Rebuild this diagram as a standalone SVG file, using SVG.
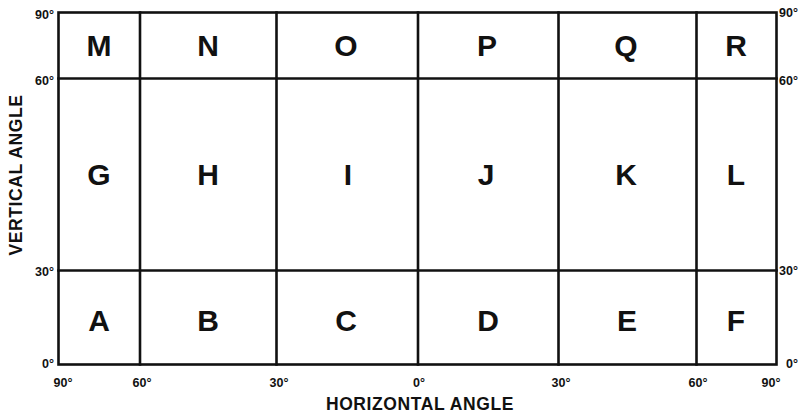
<svg xmlns="http://www.w3.org/2000/svg" width="811" height="414" viewBox="0 0 811 414">
<style>
.ln{stroke:#111;stroke-width:2.6;fill:none;stroke-linecap:square}
.cell{font-family:"Liberation Sans",Arial,sans-serif;font-weight:bold;font-size:30px;fill:#111;text-anchor:middle}
.deg{font-family:"Liberation Sans",Arial,sans-serif;font-weight:bold;font-size:12.5px;fill:#111}
.ax{font-family:"Liberation Sans",Arial,sans-serif;font-weight:bold;font-size:17.5px;fill:#111;text-anchor:middle;letter-spacing:0.6px}
</style>
<rect width="811" height="414" fill="#fff"/>
<g id="grid">
<rect class="ln" x="58.5" y="12.5" width="718" height="352"/>
<line class="ln" x1="58.5" y1="78.5" x2="776.5" y2="78.5"/>
<line class="ln" x1="58.5" y1="270.5" x2="776.5" y2="270.5"/>
<line class="ln" x1="140" y1="12.5" x2="140" y2="364.5"/>
<line class="ln" x1="276.5" y1="12.5" x2="276.5" y2="364.5"/>
<line class="ln" x1="418" y1="12.5" x2="418" y2="364.5"/>
<line class="ln" x1="558.5" y1="12.5" x2="558.5" y2="364.5"/>
<line class="ln" x1="696.5" y1="12.5" x2="696.5" y2="364.5"/>
</g>
<g id="cells">
<text class="cell" x="99" y="56">M</text>
<text class="cell" x="208" y="56">N</text>
<text class="cell" x="346" y="56">O</text>
<text class="cell" x="487" y="56">P</text>
<text class="cell" x="626" y="56">Q</text>
<text class="cell" x="736" y="56">R</text>
<text class="cell" x="99" y="185">G</text>
<text class="cell" x="208" y="185">H</text>
<text class="cell" x="348" y="185">I</text>
<text class="cell" x="486" y="185">J</text>
<text class="cell" x="626" y="185">K</text>
<text class="cell" x="736" y="185">L</text>
<text class="cell" x="99" y="331">A</text>
<text class="cell" x="208" y="331">B</text>
<text class="cell" x="346" y="331">C</text>
<text class="cell" x="488" y="331">D</text>
<text class="cell" x="627" y="331">E</text>
<text class="cell" x="736" y="331">F</text>
</g>
<g id="left-scale">
<text class="deg" x="54" y="19" text-anchor="end">90°</text>
<text class="deg" x="54" y="85" text-anchor="end">60°</text>
<text class="deg" x="54" y="276" text-anchor="end">30°</text>
<text class="deg" x="54" y="368" text-anchor="end">0°</text>
</g>
<g id="right-scale">
<text class="deg" x="779" y="17">90°</text>
<text class="deg" x="779" y="85">60°</text>
<text class="deg" x="779" y="275">30°</text>
<text class="deg" x="786" y="368">0°</text>
</g>
<g id="bottom-scale">
<text class="deg" x="63" y="387" text-anchor="middle">90°</text>
<text class="deg" x="142" y="387" text-anchor="middle">60°</text>
<text class="deg" x="279" y="387" text-anchor="middle">30°</text>
<text class="deg" x="419" y="387" text-anchor="middle">0°</text>
<text class="deg" x="561" y="387" text-anchor="middle">30°</text>
<text class="deg" x="698" y="387" text-anchor="middle">60°</text>
<text class="deg" x="771" y="387" text-anchor="middle">90°</text>
</g>
<g id="axis-titles">
<text class="ax" x="420" y="410">HORIZONTAL ANGLE</text>
<text class="ax" transform="translate(21.5,175) rotate(-90)" x="0" y="0">VERTICAL ANGLE</text>
</g>
</svg>
